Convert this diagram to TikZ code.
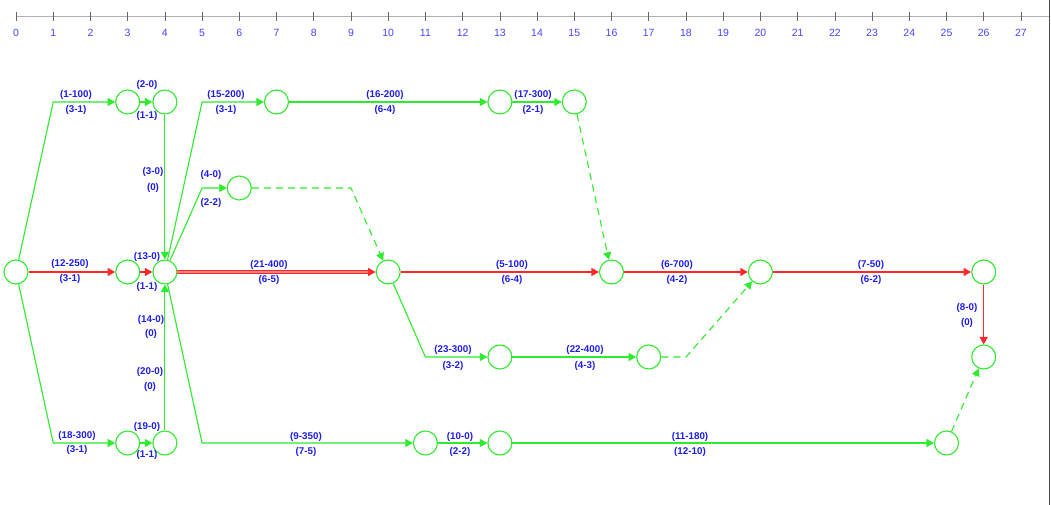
\documentclass[tikz,border=0pt]{standalone}
\usepackage{fontspec}
\setmainfont{Liberation Sans}
\usetikzlibrary{arrows.meta}
\definecolor{gr}{RGB}{45,235,45}
\definecolor{rd}{RGB}{255,40,40}
\definecolor{lb}{RGB}{30,30,235}
\definecolor{ab}{RGB}{70,70,255}
\definecolor{pk}{RGB}{255,130,130}
\begin{document}
\begin{tikzpicture}[x=1pt,y=-1pt,
  ev/.style={circle,draw=gr,line width=1.1pt,minimum size=24pt,inner sep=0pt},
  act/.style={draw=gr,line width=1.1pt,-{Triangle[length=7.5pt,width=8pt]}},
  crit/.style={draw=rd,line width=1.3pt,-{Triangle[length=7.5pt,width=8pt]}},
  dum/.style={act,dash pattern=on 7pt off 5pt},
  lab/.style={text=lb,font=\bfseries\fontsize{9.8}{10}\selectfont,inner sep=0pt},
  axl/.style={text=ab,font=\fontsize{10.5}{11}\selectfont,inner sep=0pt}]
\useasboundingbox (0,0) rectangle (1051,505);
\fill[white] (0,0) rectangle (1051,505);
% time axis
\draw[black!30,line width=1.4pt] (16,16.5) -- (1049,16.5);
\foreach \t in {0,...,27}{
  \draw[black!60,line width=0.6pt] ({16+\t*37.22},12) -- ({16+\t*37.22},21);
  \node[axl] (ax\t) at ({16+\t*37.22},33) {\t};
}
\draw[black!70,line width=0.9pt] (1049,0) -- (1049,505);
% events
\node[ev] (n0) at (16,272) {};
\node[ev] (a) at (127.7,102) {};
\node[ev] (b) at (164.9,102) {};
\node[ev] (c) at (276.5,102) {};
\node[ev] (d) at (499.9,102) {};
\node[ev] (e) at (574.3,102) {};
\node[ev] (f) at (239.3,188) {};
\node[ev] (g) at (127.7,272) {};
\node[ev] (h) at (164.9,272) {};
\node[ev] (i) at (388.2,272) {};
\node[ev] (j) at (611.5,272) {};
\node[ev] (k) at (760.4,272) {};
\node[ev] (l) at (983.7,272) {};
\node[ev] (m) at (983.7,357) {};
\node[ev] (nn) at (499.9,357) {};
\node[ev] (o) at (648.7,357) {};
\node[ev] (p) at (127.7,443) {};
\node[ev] (q) at (164.9,443) {};
\node[ev] (r) at (425.4,443) {};
\node[ev] (s) at (499.9,443) {};
\node[ev] (tt) at (946.5,443) {};
% bend points
\coordinate (b1) at (53.2,102);
\coordinate (b2) at (53.2,443);
\coordinate (b3) at (202.1,102);
\coordinate (b4) at (202.1,188);
\coordinate (b5) at (202.1,443);
\coordinate (b6) at (351,188);
\coordinate (b7) at (425.4,357);
\coordinate (b8) at (686,357);
% green activities
\draw[act] (n0) -- (b1) -- (a);
\draw[act] (a) -- (b);
\draw[act] (b) -- (h);
\draw[act] (h) -- (b3) -- (c);
\draw[act] (h) -- (b4) -- (f);
\draw[act] (c) -- (d);
\draw[act] (d) -- (e);
\draw[act] (i) -- (b7) -- (nn);
\draw[act] (nn) -- (o);
\draw[act] (n0) -- (b2) -- (p);
\draw[act] (p) -- (q);
\draw[act] (q) -- (h);
\draw[act] (h) -- (b5) -- (r);
\draw[act] (r) -- (s);
\draw[act] (s) -- (tt);
% dummies
\draw[dum] (e) -- (j);
\draw[dum] (f) -- (b6) -- (i);
\draw[dum] (o) -- (b8) -- (k);
\draw[dum] (tt) -- (m);
% critical path
\draw[crit] (n0) -- (g);
\draw[crit] (g) -- (h);
\draw[draw=rd,line width=3.8pt,shorten >=6pt] (h) -- (i);
\draw[draw=pk,line width=1.8pt,shorten >=6pt] (h) -- (i);
\draw[crit,shorten <=195pt] (h) -- (i);
\draw[crit] (i) -- (j);
\draw[crit] (j) -- (k);
\draw[crit] (k) -- (l);
\draw[crit] (l) -- (m);
% labels
\node[lab] at (76,95) {(1-100)};  \node[lab] at (76,110) {(3-1)};
\node[lab] at (147,85) {(2-0)};   \node[lab] at (147,116) {(1-1)};
\node[lab] at (226,95) {(15-200)}; \node[lab] at (226,110) {(3-1)};
\node[lab] at (385,95) {(16-200)}; \node[lab] at (385,110) {(6-4)};
\node[lab] at (533,95) {(17-300)}; \node[lab] at (533,110) {(2-1)};
\node[lab] at (153,172) {(3-0)};  \node[lab] at (153,188) {(0)};
\node[lab] at (211,175) {(4-0)};  \node[lab] at (211,203) {(2-2)};
\node[lab] at (70,264) {(12-250)}; \node[lab] at (70,279) {(3-1)};
\node[lab] at (147,257) {(13-0)}; \node[lab] at (147,287) {(1-1)};
\node[lab] at (269,265) {(21-400)}; \node[lab] at (269,280) {(6-5)};
\node[lab] at (512,265) {(5-100)}; \node[lab] at (512,280) {(6-4)};
\node[lab] at (677,265) {(6-700)}; \node[lab] at (677,280) {(4-2)};
\node[lab] at (871,265) {(7-50)}; \node[lab] at (871,280) {(6-2)};
\node[lab] at (967,308) {(8-0)}; \node[lab] at (967,323) {(0)};
\node[lab] at (151,320) {(14-0)}; \node[lab] at (151,334) {(0)};
\node[lab] at (150,372) {(20-0)}; \node[lab] at (150,387) {(0)};
\node[lab] at (453,350) {(23-300)}; \node[lab] at (453,366) {(3-2)};
\node[lab] at (585,350) {(22-400)}; \node[lab] at (585,366) {(4-3)};
\node[lab] at (77,436) {(18-300)}; \node[lab] at (77,450) {(3-1)};
\node[lab] at (147,427) {(19-0)}; \node[lab] at (147,455) {(1-1)};
\node[lab] at (306,437) {(9-350)}; \node[lab] at (306,452) {(7-5)};
\node[lab] at (460,437) {(10-0)}; \node[lab] at (460,452) {(2-2)};
\node[lab] at (690,437) {(11-180)}; \node[lab] at (690,452) {(12-10)};
\end{tikzpicture}
\end{document}
